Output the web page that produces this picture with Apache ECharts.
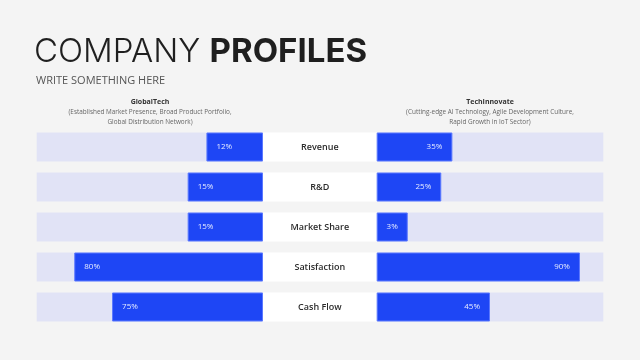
<!DOCTYPE html>
<html><head><meta charset="utf-8">
<script src="https://cdn.jsdelivr.net/npm/echarts@6/dist/echarts.min.js"></script>
<style>html,body{margin:0;padding:0;background:#f4f4f4}#c{width:640px;height:360px}</style>
</head><body><div id="c"></div>
<script>
// Categories (top to bottom)
const categories = ['Revenue', 'R&D', 'Market Share', 'Satisfaction', 'Cash Flow'];
// Printed value labels
const globalTechLabels = ['12%', '15%', '15%', '80%', '75%'];
const techInnovateLabels = ['35%', '25%', '3%', '90%', '45%'];
// Bar lengths as drawn in the picture (share of track, %)
const globalTechBars = [25, 33.3, 33.3, 83.4, 66.7];
const techInnovateBars = [33.4, 28.5, 13.7, 89.7, 50];
const centerFill = [1, 1, 1, 1, 1];

const BLUE = '#1e46f5', TRACK = '#e1e3f6';
const chart = echarts.init(document.getElementById('c'), null, {renderer: 'canvas'});
const gTop = 127, gH = 200;
const FONT = '"Open Sans", sans-serif';
function yAx(i){return {type:'category', gridIndex:i, data:categories, inverse:true, show:false};}
const barLabel = (labels, pos) => ({show:true, position:pos, distance:10, color:'#e6ebff', fontSize:8, fontFamily:FONT,
  formatter: p => labels[p.dataIndex]});
chart.setOption({
  backgroundColor:'#f4f4f4',
  animation:false,
  grid:[
    {left:36.7, top:gTop, width:226.3, height:gH},
    {left:263, top:gTop, width:113.7, height:gH},
    {left:376.7, top:gTop, width:226.6, height:gH}
  ],
  xAxis:[
    {type:'value', gridIndex:0, min:0, max:100, inverse:true, show:false},
    {type:'value', gridIndex:1, min:0, max:1, show:false},
    {type:'value', gridIndex:2, min:0, max:100, show:false}
  ],
  yAxis:[yAx(0), yAx(1), yAx(2)],
  series:[
    {type:'bar', xAxisIndex:0, yAxisIndex:0, data:globalTechBars, barWidth:29,
     showBackground:true, backgroundStyle:{color:TRACK},
     itemStyle:{color:BLUE, borderColor:'#5b78ff', borderWidth:1},
     label: barLabel(globalTechLabels, 'insideLeft')},
    {type:'bar', xAxisIndex:1, yAxisIndex:1, data:centerFill, barWidth:29,
     itemStyle:{color:'#ffffff'},
     label:{show:true, position:'inside', color:'#2b2b2b', fontSize:9, fontWeight:600, fontFamily:FONT,
       formatter:p=>categories[p.dataIndex]}},
    {type:'bar', xAxisIndex:2, yAxisIndex:2, data:techInnovateBars, barWidth:29,
     showBackground:true, backgroundStyle:{color:TRACK},
     itemStyle:{color:BLUE, borderColor:'#5b78ff', borderWidth:1},
     label: barLabel(techInnovateLabels, 'insideRight')}
  ],
  graphic:[
    {type:'text', left:34, top:36, style:{
      text:'{l|COMPANY }{b|PROFILES}',
      rich:{l:{fontSize:33, fontWeight:300, fontFamily:'Inter, sans-serif', fill:'#1f1f1f'},
            b:{fontSize:33, fontWeight:700, fontFamily:'Inter, sans-serif', fill:'#1f1f1f'}}}},
    {type:'text', left:36, top:75, style:{text:'WRITE SOMETHING HERE', fontSize:11, fontFamily:FONT, fill:'#555', fontWeight:400}},
    {type:'text', x:150, y:98.5, style:{text:'GlobalTech', fontSize:7, fontWeight:700, fontFamily:FONT, fill:'#333', align:'center'}},
    {type:'text', x:150, y:107.5, style:{text:'(Established Market Presence, Broad Product Portfolio,\nGlobal Distribution Network)', fontSize:6.4, lineHeight:9.5, fontFamily:FONT, fill:'#666', align:'center'}},
    {type:'text', x:490, y:98.5, style:{text:'TechInnovate', fontSize:7, fontWeight:700, fontFamily:FONT, fill:'#333', align:'center'}},
    {type:'text', x:490, y:107.5, style:{text:'(Cutting-edge AI Technology, Agile Development Culture,\nRapid Growth in IoT Sector)', fontSize:6.4, lineHeight:9.5, fontFamily:FONT, fill:'#666', align:'center'}}
  ]
});
</script></body></html>
